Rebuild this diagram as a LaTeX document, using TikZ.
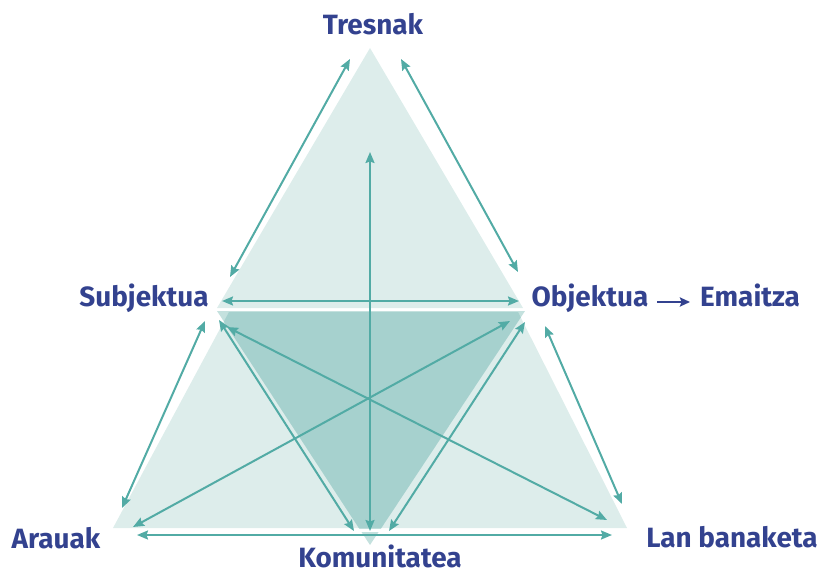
\documentclass[tikz,border=0pt]{standalone}
\usepackage{fontspec}
\setmainfont{Fira Sans}
\usetikzlibrary{arrows.meta}
\definecolor{inkblue}{HTML}{33428F}
\definecolor{tealline}{HTML}{52ABA5}
\definecolor{palefill}{HTML}{DDEDEB}
\definecolor{midfill}{HTML}{A6D1CE}
\definecolor{tipfill}{HTML}{C4E1DE}
\tikzset{
  termtext/.style={font=\fontsize{28}{32}\selectfont\bfseries,text=inkblue,inner sep=0pt,anchor=base},
  link/.style={tealline,line width=2bp,{Stealth[length=11bp,width=9bp,inset=1.5bp]}-{Stealth[length=11bp,width=9bp,inset=1.5bp]}},
}
\begin{document}
\begin{tikzpicture}[x=1bp,y=-1bp]
  \useasboundingbox (0,0) rectangle (818,574);
  \fill[palefill] (370,48) -- (217,308) -- (523,308) -- cycle;
  \fill[palefill] (229,312) -- (518,312) -- (627,528) -- (113,528) -- cycle;
  \fill[tipfill] (217,311) -- (525,311) -- (370,545) -- cycle;
  \begin{scope}
    \clip (229,312) -- (518,312) -- (627,528) -- (113,528) -- cycle;
    \fill[midfill] (217,311) -- (525,311) -- (370,545) -- cycle;
  \end{scope}
  \fill[white] (300,528.5) rectangle (440,531.5);

  \node[termtext] (tresnak) at (373,35) {Tresnak};
  \node[termtext] (subjektua) at (144,306) {Subjektua};
  \node[termtext] (objektua) at (590,306) {Objektua};
  \node[termtext] (emaitza) at (750,306) {Emaitza};
  \node[termtext] (arauak) at (56,548) {Arauak};
  \node[termtext] (komunitatea) at (380,567) {Komunitatea};
  \node[termtext] (lanbanaketa) at (732,547) {Lan banaketa};

  \coordinate (tresL) at (350,59);
  \coordinate (tresR) at (401,59);
  \coordinate (tresC) at (370,152);
  \coordinate (subjA) at (230,277);
  \coordinate (subjB) at (222,301);
  \coordinate (subjC) at (205,321);
  \coordinate (subjD) at (219,320);
  \coordinate (subjE) at (227,327);
  \coordinate (objA) at (518,272);
  \coordinate (objB) at (519,301);
  \coordinate (objC) at (510,321);
  \coordinate (objD) at (525,322);
  \coordinate (objE) at (545,326);
  \coordinate (araA) at (122,508);
  \coordinate (araB) at (133,527);
  \coordinate (araC) at (137,535);
  \coordinate (komA) at (354,531);
  \coordinate (komB) at (370,531);
  \coordinate (komC) at (389,531);
  \coordinate (lanA) at (607,520);
  \coordinate (lanB) at (622,504);
  \coordinate (lanC) at (612,535);
  \coordinate (objOut) at (657,302);
  \coordinate (emaIn) at (690,302);

  \draw[link] (subjA) -- (tresL);
  \draw[link] (tresR) -- (objA);
  \draw[link] (subjB) -- (objB);
  \draw[link] (tresC) -- (komB);
  \draw[link] (subjC) -- (araA);
  \draw[link] (subjD) -- (komA);
  \draw[link] (subjE) -- (lanA);
  \draw[link] (objC) -- (araB);
  \draw[link] (objD) -- (komC);
  \draw[link] (objE) -- (lanB);
  \draw[link] (araC) -- (lanC);
  \draw[inkblue,line width=2.4bp,-{Stealth[length=10bp,width=9bp,inset=1.5bp]}] (objOut) -- (emaIn);
\end{tikzpicture}
\end{document}
